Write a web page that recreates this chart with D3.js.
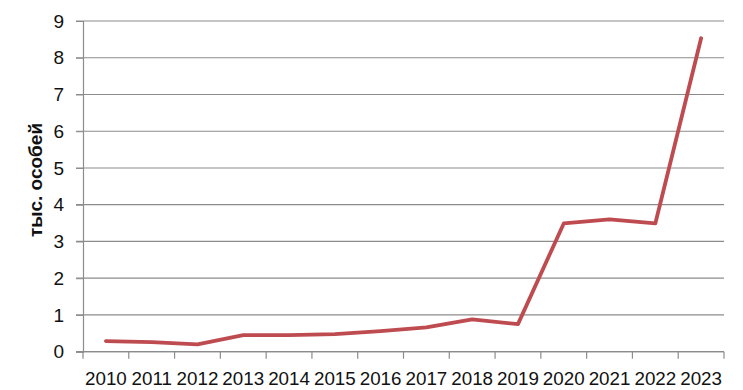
<!DOCTYPE html>
<html><head><meta charset="utf-8">
<script src="https://cdn.jsdelivr.net/npm/d3@7"></script>
<style>body{margin:0;background:#fff}svg{display:block}</style>
</head><body>
<svg id="c" width="743" height="390"></svg>
<script>
const years = ["2010","2011","2012","2013","2014","2015","2016","2017","2018","2019","2020","2021","2022","2023"];
const values = [0.29,0.26,0.2,0.45,0.45,0.48,0.56,0.66,0.88,0.75,3.49,3.6,3.49,8.53];
const yTicks = [0,1,2,3,4,5,6,7,8,9];
const yLabel = "тыс. особей";

(function(){
const svg = d3.select("#c");
const mLeft = 83, mRight = 724, mTop = 21, mBottom = 351.7;
const font = "'Liberation Sans', Arial, sans-serif";

const x = d3.scaleBand().domain(years).range([mLeft, mRight]);
const y = d3.scaleLinear().domain([0, 9]).range([mBottom, mTop]);

// gridlines
svg.append("g").selectAll("line").data(yTicks).join("line")
  .attr("x1", mLeft - 7).attr("x2", mRight)
  .attr("y1", d => y(d)).attr("y2", d => y(d))
  .attr("stroke", "#8c8c8c").attr("stroke-width", 1.2);

// y axis
const ya = svg.append("g").attr("transform", `translate(${mLeft},0)`)
  .call(d3.axisLeft(y).tickValues(yTicks).tickSize(7).tickPadding(12).tickFormat(d3.format("d")));
ya.select(".domain").attr("stroke", "#8c8c8c").attr("stroke-width", 1.2);
ya.selectAll(".tick line").attr("stroke", "#8c8c8c");
ya.selectAll("text").attr("font-family", font).attr("font-size", 19).attr("fill", "#111");

// x axis
const xa = svg.append("g").attr("transform", `translate(0,${mBottom})`)
  .call(d3.axisBottom(x).tickSize(0).tickPadding(20));
xa.select(".domain").attr("stroke", "#8c8c8c").attr("stroke-width", 1.2).attr("d", `M${mLeft},0H${mRight}`);
xa.selectAll("text").attr("font-family", font).attr("font-size", 18.8).attr("fill", "#111");
// boundary ticks
const bounds = years.map(d => x(d)).concat([mRight]);
svg.append("g").selectAll("line").data(bounds).join("line")
  .attr("x1", d => d).attr("x2", d => d)
  .attr("y1", mBottom).attr("y2", mBottom + 7)
  .attr("stroke", "#8c8c8c").attr("stroke-width", 1.2);

// line
const line = d3.line().x((d, i) => x(years[i]) + x.bandwidth() / 2).y(d => y(d));
svg.append("path").datum(values).attr("d", line)
  .attr("fill", "none").attr("stroke", "#be4b50").attr("stroke-width", 3.8)
  .attr("stroke-linejoin", "round").attr("stroke-linecap", "round");

// y label
svg.append("text").attr("transform", "translate(42,180) rotate(-90)")
  .attr("text-anchor", "middle").attr("font-family", font)
  .attr("font-weight", "bold").attr("font-size", 19).attr("fill", "#111")
  .text(yLabel);
})();
</script>
</body></html>
